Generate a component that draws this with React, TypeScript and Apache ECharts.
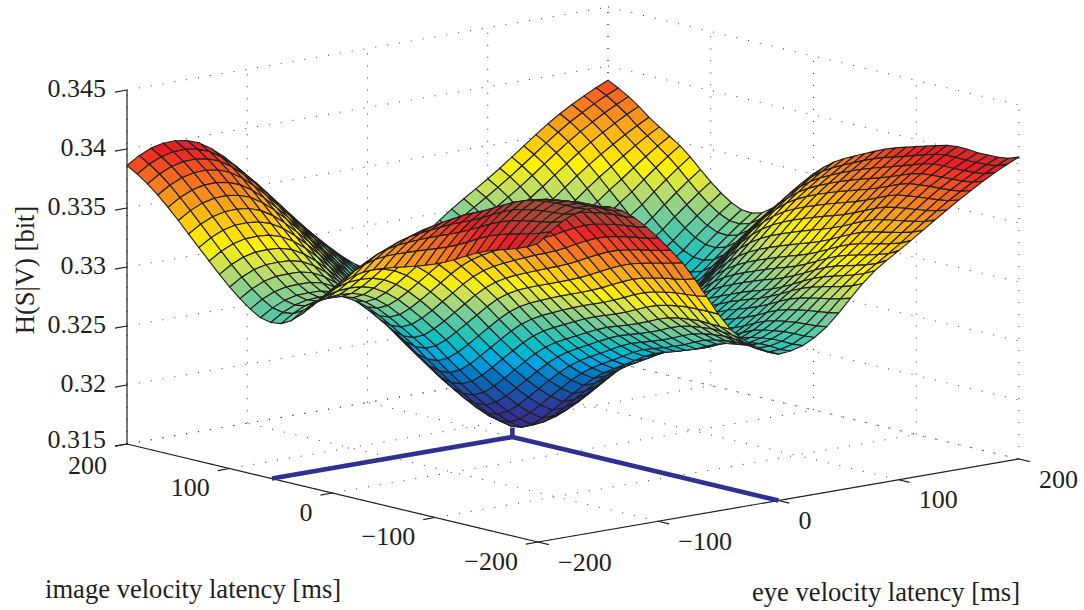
import React, { useEffect, useRef } from "react";
import * as echarts from "echarts";

// H(S|V), in units of 0.00001 above 0.3.
// One row per image velocity latency (-200..200 in steps of 10), one column per eye velocity latency.
const surfaceRows: number[][] = [
[4030,4111,4180,4226,4250,4252,4234,4184,4108,4012,3902,3782,3656,3504,3336,3167,3022,2921,2844,2783,2740,2749,2777,2829,2902,3000,3110,3216,3306,3377,3442,3509,3578,3648,3716,3783,3846,3906,3962,4014,4060],
[3982,4078,4153,4206,4240,4239,4216,4167,4098,3991,3876,3756,3633,3475,3320,3170,3024,2937,2856,2786,2737,2741,2769,2821,2889,2984,3082,3175,3262,3328,3395,3467,3542,3615,3687,3756,3818,3877,3932,3982,4027],
[3946,4051,4136,4198,4241,4239,4215,4164,4094,3983,3864,3739,3612,3460,3312,3168,3028,2943,2864,2798,2751,2750,2773,2820,2883,2971,3062,3148,3229,3297,3367,3441,3519,3595,3670,3742,3807,3866,3921,3971,4016],
[3918,4030,4122,4191,4241,4237,4211,4158,4086,3972,3850,3722,3592,3446,3304,3166,3032,2947,2868,2800,2753,2750,2771,2816,2877,2960,3046,3127,3203,3272,3344,3419,3499,3578,3658,3733,3802,3861,3917,3968,4013],
[3892,4008,4104,4178,4232,4226,4198,4144,4070,3954,3830,3700,3568,3426,3288,3154,3024,2938,2858,2790,2742,2738,2759,2803,2864,2944,3027,3105,3178,3249,3322,3399,3480,3563,3646,3725,3798,3858,3914,3966,4012],
[3862,3982,4083,4161,4220,4212,4182,4126,4050,3933,3808,3676,3543,3405,3271,3140,3014,2927,2846,2776,2727,2723,2744,2788,2849,2926,3006,3081,3151,3224,3299,3379,3462,3547,3633,3714,3790,3854,3914,3970,4020],
[3824,3949,4053,4136,4199,4189,4157,4098,4020,3902,3775,3643,3508,3374,3243,3117,2996,2907,2824,2753,2702,2699,2719,2764,2824,2899,2976,3049,3116,3192,3269,3351,3437,3526,3616,3701,3780,3847,3911,3970,4024],
[3778,3906,4013,4099,4164,4152,4117,4057,3977,3858,3732,3599,3464,3333,3206,3082,2963,2873,2788,2716,2664,2660,2681,2725,2786,2860,2936,3007,3073,3150,3230,3313,3400,3492,3583,3671,3752,3824,3892,3955,4013],
[3730,3858,3967,4054,4120,4107,4071,4010,3928,3810,3683,3551,3416,3287,3161,3040,2922,2831,2746,2673,2620,2616,2637,2682,2742,2815,2890,2961,3026,3104,3185,3270,3358,3451,3544,3633,3716,3791,3862,3929,3990],
[3686,3814,3922,4007,4073,4058,4020,3957,3874,3757,3631,3500,3367,3240,3118,2999,2884,2794,2710,2638,2586,2582,2603,2647,2708,2779,2851,2920,2982,3061,3141,3226,3314,3409,3504,3595,3680,3758,3832,3902,3966],
[3648,3774,3880,3964,4028,4012,3974,3910,3826,3710,3585,3455,3322,3198,3078,2962,2850,2761,2678,2607,2556,2553,2573,2618,2678,2746,2817,2883,2944,3022,3103,3187,3276,3373,3469,3562,3649,3728,3804,3875,3940],
[3616,3740,3844,3926,3988,3972,3933,3869,3784,3668,3544,3414,3282,3160,3043,2929,2820,2732,2649,2578,2528,2524,2545,2589,2650,2718,2787,2853,2912,2990,3071,3155,3244,3342,3439,3533,3621,3701,3777,3848,3914],
[3588,3709,3810,3889,3948,3932,3894,3830,3746,3630,3506,3376,3244,3124,3009,2897,2790,2701,2619,2548,2498,2494,2515,2559,2620,2688,2758,2824,2884,2962,3043,3127,3216,3314,3412,3506,3594,3674,3750,3822,3888],
[3562,3677,3772,3844,3897,3882,3844,3781,3698,3585,3464,3337,3208,3087,2970,2858,2749,2659,2576,2504,2452,2449,2470,2515,2576,2647,2720,2790,2853,2931,3012,3096,3185,3284,3382,3477,3565,3644,3720,3791,3856],
[3536,3644,3733,3799,3846,3831,3794,3732,3649,3539,3421,3298,3172,3049,2929,2814,2703,2611,2524,2450,2396,2394,2417,2463,2526,2601,2678,2750,2817,2897,2978,3064,3154,3252,3351,3445,3534,3612,3685,3755,3818],
[3508,3610,3692,3751,3791,3777,3742,3680,3598,3492,3377,3257,3134,3008,2886,2769,2655,2561,2472,2396,2340,2340,2365,2413,2477,2555,2635,2710,2780,2861,2944,3030,3121,3219,3318,3412,3500,3576,3648,3716,3778],
[3476,3572,3648,3702,3736,3722,3687,3625,3544,3440,3329,3211,3092,2965,2842,2723,2608,2512,2422,2344,2286,2288,2313,2363,2428,2509,2591,2670,2742,2823,2906,2993,3084,3182,3280,3374,3462,3537,3608,3675,3736],
[3434,3524,3594,3641,3669,3657,3622,3562,3482,3381,3272,3157,3040,2914,2791,2673,2558,2460,2368,2289,2229,2231,2258,2308,2374,2456,2541,2621,2696,2777,2861,2948,3040,3138,3236,3330,3418,3493,3565,3632,3694],
[3378,3463,3528,3570,3593,3581,3546,3486,3406,3307,3201,3088,2974,2849,2728,2610,2497,2398,2304,2223,2162,2165,2192,2243,2310,2394,2480,2561,2637,2719,2804,2892,2984,3082,3180,3274,3362,3439,3512,3580,3643],
[3306,3386,3446,3483,3501,3489,3456,3396,3317,3220,3115,3004,2891,2767,2648,2532,2421,2321,2226,2144,2081,2084,2112,2164,2231,2316,2403,2486,2563,2646,2731,2820,2913,3011,3109,3203,3291,3369,3444,3514,3578],
[3222,3298,3354,3388,3402,3391,3358,3299,3220,3124,3020,2910,2798,2676,2558,2444,2334,2233,2138,2055,1992,1996,2024,2076,2144,2230,2317,2401,2478,2562,2647,2737,2830,2928,3026,3120,3208,3288,3364,3436,3502],
[3132,3205,3258,3289,3300,3290,3258,3201,3123,3028,2926,2817,2706,2584,2466,2353,2243,2142,2048,1965,1902,1906,1934,1986,2054,2139,2226,2309,2386,2468,2552,2641,2733,2830,2928,3021,3108,3190,3268,3342,3410],
[3040,3111,3162,3191,3200,3191,3161,3104,3028,2934,2831,2723,2613,2491,2374,2260,2151,2050,1956,1873,1810,1814,1842,1894,1962,2046,2132,2215,2291,2371,2454,2540,2630,2726,2822,2915,3001,3085,3166,3242,3312],
[2952,3022,3071,3098,3106,3099,3070,3014,2939,2845,2744,2636,2526,2404,2286,2173,2063,1962,1867,1785,1722,1726,1754,1806,1874,1958,2043,2125,2200,2278,2358,2443,2531,2626,2720,2811,2895,2982,3064,3143,3215],
[2878,2946,2995,3021,3028,3022,2994,2940,2866,2772,2671,2563,2454,2332,2214,2100,1990,1889,1794,1711,1648,1652,1680,1732,1800,1883,1968,2049,2124,2200,2278,2360,2446,2539,2632,2721,2804,2891,2975,3054,3128],
[2832,2899,2947,2972,2978,2974,2947,2894,2822,2729,2628,2522,2413,2291,2172,2058,1947,1845,1749,1666,1602,1606,1634,1686,1754,1836,1920,1999,2073,2147,2224,2304,2388,2480,2572,2659,2741,2829,2914,2994,3068],
[2820,2887,2933,2958,2963,2960,2935,2884,2813,2721,2620,2515,2406,2283,2164,2049,1938,1836,1739,1655,1590,1594,1622,1674,1742,1823,1905,1984,2056,2128,2203,2281,2364,2455,2546,2633,2714,2803,2888,2969,3044],
[2840,2906,2952,2977,2981,2979,2955,2906,2836,2745,2645,2540,2432,2308,2188,2072,1960,1857,1760,1675,1610,1614,1642,1694,1762,1841,1922,2000,2071,2143,2216,2294,2375,2464,2554,2639,2719,2809,2895,2976,3052],
[2892,2958,3004,3028,3032,3031,3008,2959,2890,2799,2700,2595,2488,2364,2243,2127,2014,1910,1813,1727,1662,1666,1694,1746,1814,1892,1972,2048,2118,2189,2262,2339,2420,2508,2596,2680,2758,2848,2934,3016,3092],
[2960,3026,3072,3096,3100,3098,3074,3023,2953,2862,2763,2658,2551,2427,2307,2192,2080,1977,1880,1795,1730,1734,1762,1814,1882,1960,2040,2116,2186,2255,2326,2401,2480,2568,2656,2740,2818,2908,2994,3076,3152],
[3038,3104,3150,3174,3178,3174,3148,3095,3023,2932,2834,2729,2622,2500,2381,2267,2156,2053,1957,1872,1808,1812,1840,1892,1960,2038,2118,2194,2264,2332,2400,2473,2552,2640,2729,2813,2891,2981,3067,3150,3226],
[3124,3190,3236,3260,3264,3258,3229,3175,3100,3009,2910,2806,2699,2578,2461,2348,2239,2137,2041,1958,1894,1898,1926,1978,2046,2124,2204,2280,2350,2416,2485,2557,2634,2722,2810,2895,2973,3064,3150,3233,3309],
[3216,3282,3328,3352,3356,3348,3317,3261,3184,3093,2994,2889,2782,2663,2547,2436,2328,2227,2132,2049,1986,1990,2018,2070,2138,2216,2296,2372,2442,2508,2576,2648,2724,2812,2900,2984,3062,3152,3238,3320,3396],
[3310,3376,3422,3446,3450,3439,3407,3348,3270,3178,3078,2972,2864,2746,2632,2523,2417,2317,2223,2142,2080,2084,2112,2164,2232,2310,2390,2466,2536,2602,2670,2742,2818,2904,2990,3073,3149,3236,3318,3397,3470],
[3404,3470,3516,3540,3544,3532,3497,3437,3356,3263,3162,3055,2946,2830,2718,2610,2506,2407,2315,2234,2174,2178,2206,2258,2326,2404,2484,2560,2630,2696,2764,2836,2912,2996,3080,3161,3235,3315,3391,3463,3529],
[3498,3564,3610,3634,3638,3624,3587,3525,3443,3349,3246,3138,3027,2913,2803,2697,2595,2498,2407,2327,2268,2272,2300,2352,2420,2498,2578,2654,2724,2790,2858,2930,3006,3088,3170,3249,3321,3394,3464,3529,3588],
[3588,3654,3700,3724,3728,3712,3674,3610,3526,3430,3326,3216,3104,2992,2884,2780,2680,2584,2494,2416,2358,2362,2390,2442,2510,2588,2668,2744,2814,2880,2948,3020,3096,3176,3257,3333,3404,3471,3535,3594,3648],
[3672,3738,3784,3808,3812,3796,3758,3694,3610,3514,3410,3300,3188,3076,2968,2864,2764,2668,2578,2500,2442,2446,2474,2526,2594,2672,2752,2828,2898,2964,3032,3104,3180,3260,3339,3415,3485,3550,3611,3669,3720],
[3746,3812,3858,3882,3886,3870,3832,3768,3684,3588,3484,3374,3262,3150,3042,2938,2838,2742,2652,2574,2516,2520,2548,2600,2668,2746,2826,2902,2972,3038,3106,3178,3254,3333,3412,3487,3556,3619,3678,3733,3782],
[3808,3874,3920,3944,3948,3932,3894,3830,3746,3650,3546,3436,3324,3212,3104,3000,2900,2804,2714,2636,2578,2582,2610,2662,2730,2808,2888,2964,3034,3100,3168,3240,3316,3394,3473,3547,3616,3677,3735,3788,3835],
[3860,3926,3972,3996,4000,3984,3946,3882,3798,3702,3598,3488,3376,3264,3156,3052,2952,2856,2766,2688,2630,2634,2662,2714,2782,2860,2940,3016,3086,3152,3220,3292,3368,3446,3524,3598,3666,3726,3782,3834,3880],
];

const latencyTicks=[-200,-100,0,100,200];
const entropyTicks=[0.315,0.32,0.325,0.33,0.335,0.34,0.345];
const entropyLabels=["0.315","0.32","0.325","0.33","0.335","0.34","0.345"];
const minEye=0, minImage=59, minEntropy=0.3158;
const STEP=10;
const Z0=0.315,Z1=0.345;
const proj=(e:number,m:number,z:number)=>{const u=(e+200)/400,v=(m+200)/400;return [538+481*u-411*v,542-83*u-98*v-(z-Z0)*11800];};
const zAt=(i:number,j:number)=>0.3+surfaceRows[j][i]*1e-5;
const stops:[number,number[]][]=[[0,[55,45,135]],[.125,[46,55,155]],[.25,[0,114,188]],[.3125,[0,165,230]],[.375,[0,190,200]],[.5,[125,205,150]],[.5625,[195,222,100]],[.625,[255,242,0]],[.6875,[255,200,15]],[.75,[247,148,30]],[.8125,[243,100,33]],[.875,[237,28,36]],[.91,[200,52,44]],[.96,[168,72,52]],[1,[160,75,55]]];
const flat=surfaceRows.flat();const zmin=Math.min(...flat),zmax=Math.max(...flat);
const colorOf=(val:number)=>{const t=(val-zmin)/(zmax-zmin);for(let k=1;k<stops.length;k++){if(t<=stops[k][0]){const a=stops[k-1],b=stops[k];const s=(t-a[0])/(b[0]-a[0]);const q=a[1].map((x,n)=>Math.round(x+(b[1][n]-x)*s));return `rgb(${q.join(",")})`;}}return "rgb(160,75,55)";};
const cells:number[][]=[];for(let i=39;i>=0;i--)for(let j=39;j>=0;j--)cells.push([i,j]);
const dotted:number[][]=[];
const A=-200,B=200;
for(const z of entropyTicks){dotted.push([A,B,z,B,B,z]);dotted.push([B,B,z,B,A,z]);}
for(const t of latencyTicks){dotted.push([t,B,Z0,t,B,Z1]);dotted.push([B,t,Z0,B,t,Z1]);dotted.push([t,A,Z0,t,B,Z0]);dotted.push([A,t,Z0,B,t,Z0]);}
const solid:number[][]=[[A,B,Z0,A,B,Z1],[A,B,Z0,A,A,Z0],[A,A,Z0,B,A,Z0]];
for(const z of entropyTicks)solid.push([A,B,z,A-10,B,z]);
for(const t of latencyTicks){solid.push([A,t,Z0,A-10,t,Z0]);solid.push([t,A,Z0,t,A-10.5,Z0]);}
const blue:number[][]=[[minEye,A,Z0,minEye,minImage,Z0],[A,minImage,Z0,minEye,minImage,Z0],[minEye,minImage,Z0,minEye,minImage,minEntropy]];

const lineSeries=(data:number[][],style:any)=>({type:"custom",coordinateSystem:"cartesian2d",silent:true,clip:false,progressive:0,data,encode:{x:0,y:1},renderItem:(p:any,api:any)=>{const d=data[p.dataIndex];const a=api.coord(proj(d[0],d[1],d[2]));const b=api.coord(proj(d[3],d[4],d[5]));return {type:"line",shape:{x1:a[0],y1:a[1],x2:b[0],y2:b[1]},style};}});
const font="26px 'Liberation Serif', 'Times New Roman', serif";
const labelItems:any[]=[];
entropyTicks.forEach((z,n)=>{const p=proj(A,B,z);labelItems.push({text:entropyLabels[n],x:p[0]-21,y:p[1]-2+(n===0?-3:0),align:"right"});});
latencyTicks.forEach(t=>{const p=proj(A,t,Z0);labelItems.push({text:String(t).replace("-","\u2212"),x:p[0]-20,y:p[1]+19+(t===200?2:0),align:"right"});});
latencyTicks.forEach(t=>{const p=proj(t,A,Z0);labelItems.push({text:String(t).replace("-","\u2212"),x:p[0]+20,y:p[1]+20,align:"left"});});
const titles=[{text:"image velocity latency [ms]",x:45,y:589,rot:0},{text:"eye velocity latency [ms]",x:752,y:592,rot:0},{text:"H(S|V) [bit]",x:25,y:270,rot:Math.PI/2}];
const tfont="26.6px 'Liberation Serif', serif";

export default function App(){
  const ref=useRef<HTMLDivElement>(null);
  useEffect(()=>{
    document.body.style.margin="0";
    const chart=echarts.init(ref.current!,null,{renderer:"svg"});
    chart.setOption({animation:false,backgroundColor:"#fff",
      grid:{left:0,right:0,top:0,bottom:0},
      xAxis:{type:"value",min:0,max:1084,show:false},
      yAxis:{type:"value",min:0,max:610,inverse:true,show:false},
      series:[
        lineSeries(dotted,{stroke:"#333",lineWidth:1,lineDash:[1,11]}),
        lineSeries(solid,{stroke:"#231f20",lineWidth:1.2}),
        {type:"custom",coordinateSystem:"cartesian2d",silent:true,clip:false,progressive:0,data:cells,encode:{x:0,y:1},renderItem:(p:any,api:any)=>{
          const [i,j]=cells[p.dataIndex];
          const pt=(a:number,b:number)=>api.coord(proj(-200+a*STEP,-200+b*STEP,zAt(a,b)));
          return {type:"polygon",shape:{points:[pt(i,j),pt(i+1,j),pt(i+1,j+1),pt(i,j+1)]},style:{fill:colorOf(surfaceRows[j][i]),stroke:"#231f20",lineWidth:1.15,lineJoin:"round"}};
        }},
        lineSeries(blue,{stroke:"#2e3192",lineWidth:4.6}),
        {type:"custom",coordinateSystem:"cartesian2d",silent:true,clip:false,data:labelItems.map((_,n)=>[n,0]),encode:{x:0,y:1},renderItem:(p:any,api:any)=>{const d=labelItems[p.dataIndex];const c0=api.coord([d.x,d.y]);return {type:"text",style:{text:d.text,x:c0[0],y:c0[1],align:d.align,verticalAlign:"middle",font,fill:"#231f20"}};}},
        {type:"custom",coordinateSystem:"cartesian2d",silent:true,clip:false,data:titles.map((_,n)=>[n,0]),encode:{x:0,y:1},renderItem:(p:any,api:any)=>{const d=titles[p.dataIndex];const c0=api.coord([d.x,d.y]);return d.rot?{type:"text",x:c0[0],y:c0[1],rotation:d.rot,style:{text:d.text,x:0,y:0,align:"center",verticalAlign:"middle",font:tfont,fill:"#231f20"}}:{type:"text",style:{text:d.text,x:c0[0],y:c0[1],align:"left",verticalAlign:"middle",font:tfont,fill:"#231f20"}};}},
      ]});
    return ()=>chart.dispose();
  },[]);
  return <div ref={ref} style={{position:"absolute",left:0,top:0,width:1084,height:610}}/>;
}
